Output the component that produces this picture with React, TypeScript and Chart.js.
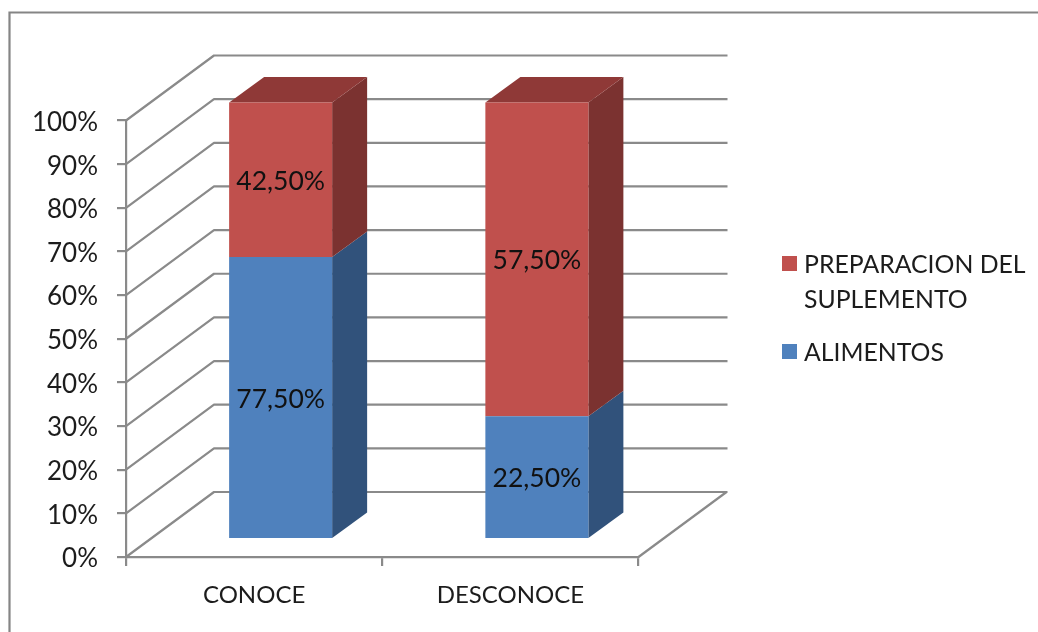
import React, { useEffect, useRef } from "react";
import { Chart, registerables } from "chart.js";

Chart.register(...registerables);

const categories = ["CONOCE", "DESCONOCE"];
const alimentos = [77.5, 22.5];
const preparacion = [42.5, 57.5];
const seriesNames = ["ALIMENTOS", "PREPARACION DEL SUPLEMENTO"];
const legendLines = [["PREPARACION DEL", "SUPLEMENTO"], ["ALIMENTOS"]];
const share = (a: number[], b: number[]) => a.map((v, i) => (v / (v + b[i])) * 100);

const FONT = "Lato";
const TEXT = "#1c1c1c";
const GRID = "#8a8a8a";
const BLUE = "#4f81bd", BLUE_SIDE = "#31527b";
const RED = "#c0504d", RED_SIDE = "#7b3230", RED_TOP = "#8f3937";
const WALL = { dx: 88, dy: -65 };
const OFFSET = { dx: 26.5, dy: -18 };
const DEPTH = { dx: 35, dy: -25.5 };

const poly = (ctx: CanvasRenderingContext2D, pts: number[][], fill: string) => {
  ctx.beginPath();
  pts.forEach(([x, y], i) => (i ? ctx.lineTo(x, y) : ctx.moveTo(x, y)));
  ctx.closePath();
  ctx.fillStyle = fill;
  ctx.fill();
};

const plugin3d = {
  id: "plugin3d",
  beforeDatasetsDraw(chart: any) {
    const { ctx, chartArea: a, scales } = chart;
    ctx.save();
    ctx.strokeStyle = GRID;
    ctx.lineWidth = 2.2;
    ctx.lineJoin = "round";
    scales.y.ticks.forEach((t: any) => {
      const y = scales.y.getPixelForValue(t.value);
      ctx.beginPath();
      ctx.moveTo(a.left, y);
      ctx.lineTo(a.left + WALL.dx, y + WALL.dy);
      ctx.lineTo(a.right + WALL.dx + 1, y + WALL.dy);
      ctx.stroke();
    });
    ctx.beginPath();
    ctx.moveTo(a.right, a.bottom);
    ctx.lineTo(a.right + WALL.dx, a.bottom + WALL.dy);
    ctx.stroke();
    ctx.restore();

    ctx.save();
    ctx.translate(OFFSET.dx, OFFSET.dy);
    const sideColors = [BLUE_SIDE, RED_SIDE];
    chart.data.datasets.forEach((_: any, di: number) => {
      chart.getDatasetMeta(di).data.forEach((b: any) => {
        const r = b.x + b.width / 2;
        poly(ctx, [[r, b.y], [r + DEPTH.dx, b.y + DEPTH.dy], [r + DEPTH.dx, b.base + DEPTH.dy], [r, b.base]], sideColors[di]);
        if (di === chart.data.datasets.length - 1) {
          const l = b.x - b.width / 2;
          poly(ctx, [[l, b.y], [l + DEPTH.dx, b.y + DEPTH.dy], [r + DEPTH.dx, b.y + DEPTH.dy], [r, b.y]], RED_TOP);
        }
      });
    });
  },
  afterDatasetsDraw(chart: any) {
    const { ctx } = chart;
    ctx.font = `26.5px ${FONT}`;
    ctx.fillStyle = "#111111";
    ctx.textAlign = "center";
    ctx.textBaseline = "middle";
    [alimentos, preparacion].forEach((vals, di) => {
      chart.getDatasetMeta(di).data.forEach((b: any, i: number) => {
        const txt = vals[i].toFixed(2).replace(".", ",") + "%";
        ctx.fillText(txt, b.x, (b.y + b.base) / 2 + 1.5);
      });
    });
    ctx.restore();
  },
  afterDraw(chart: any) {
    const { ctx } = chart;
    ctx.save();
    ctx.strokeStyle = "#858585";
    ctx.lineWidth = 2.2;
    ctx.beginPath();
    ctx.moveTo(9.5, 632);
    ctx.lineTo(9.5, 12.5);
    ctx.lineTo(1038, 12.5);
    ctx.stroke();
    ctx.font = `24.8px ${FONT}`;
    ctx.textAlign = "left";
    ctx.textBaseline = "middle";
    const marks = [RED, BLUE];
    const tops = [256, 344];
    legendLines.forEach((lines, k) => {
      ctx.fillStyle = marks[k];
      ctx.fillRect(782, tops[k], 15, 15);
      ctx.fillStyle = TEXT;
      lines.forEach((ln, j) => ctx.fillText(ln, 804, tops[k] + 9 + j * 35));
    });
    ctx.restore();
  },
};

export default function App() {
  const ref = useRef<HTMLCanvasElement>(null);
  useEffect(() => {
    const chart = new Chart(ref.current as HTMLCanvasElement, {
      type: "bar",
      data: {
        labels: categories,
        datasets: [
          { label: seriesNames[0], data: share(alimentos, preparacion), backgroundColor: BLUE, borderWidth: 0, clip: false } as any,
          { label: seriesNames[1], data: share(preparacion, alimentos), backgroundColor: RED, borderWidth: 0, clip: false } as any,
        ],
      },
      plugins: [plugin3d],
      options: {
        responsive: false,
        animation: false,
        devicePixelRatio: 1,
        layout: { padding: { left: 0, right: 399.5, top: 120.5, bottom: 0 } },
        datasets: { bar: { barPercentage: 0.402, categoryPercentage: 1 } },
        plugins: { legend: { display: false }, tooltip: { enabled: false }, title: { display: false } },
        scales: {
          x: {
            stacked: true,
            afterFit: (s: any) => { s.height = 75; },
            border: { color: GRID, width: 2.2 },
            grid: { drawOnChartArea: false, drawTicks: true, tickLength: 9, color: GRID, lineWidth: 2.2 },
            ticks: { color: TEXT, padding: 15, maxRotation: 0, font: { family: FONT, size: 24 } },
          },
          y: {
            stacked: true,
            min: 0,
            max: 100,
            afterFit: (s: any) => { s.width = 126; },
            border: { color: GRID, width: 2.2 },
            grid: { drawOnChartArea: false, drawTicks: true, tickLength: 9, color: GRID, lineWidth: 2.2 },
            ticks: { stepSize: 10, color: TEXT, padding: 19, labelOffset: 2, font: { family: FONT, size: 26 }, callback: (v: any) => `${v}%` },
          },
        },
      },
    } as any);
    return () => chart.destroy();
  }, []);
  return (
    <div style={{ position: "fixed", left: 0, top: 0, width: 1038, height: 632, background: "#fff", overflow: "hidden" }}>
      <canvas ref={ref} width={1038} height={632} style={{ display: "block", filter: "blur(0.45px)" }} />
    </div>
  );
}
